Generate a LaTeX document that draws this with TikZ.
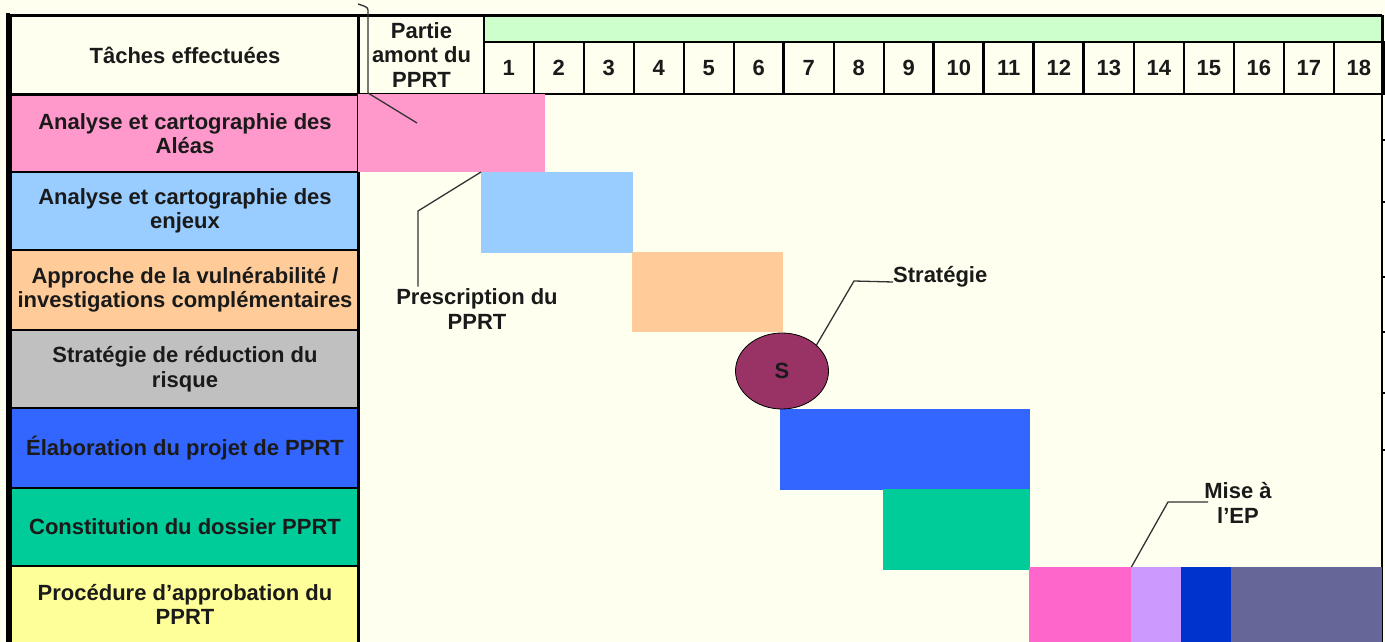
\documentclass[tikz,border=0pt]{standalone}
\usepackage{fontspec}
\setmainfont{Liberation Sans}
\usetikzlibrary{shapes.geometric,calc}
\definecolor{bg}{HTML}{FFFFF0}
\definecolor{hdrgreen}{HTML}{CCFFCC}
\definecolor{aleas}{HTML}{FF99CC}
\definecolor{enjeux}{HTML}{99CCFF}
\definecolor{vuln}{HTML}{FFCC99}
\definecolor{strat}{HTML}{C0C0C0}
\definecolor{projet}{HTML}{3366FF}
\definecolor{dossier}{HTML}{00CC99}
\definecolor{appro}{HTML}{FFFF99}
\definecolor{sfill}{HTML}{993366}
\definecolor{proc1}{HTML}{FF66CC}
\definecolor{proc2}{HTML}{CC99FF}
\definecolor{proc3}{HTML}{0033CC}
\definecolor{proc4}{HTML}{666699}
\definecolor{ink}{HTML}{1A1A1A}
\definecolor{leader}{HTML}{333333}
\tikzset{
  cell/.style={draw=black, line width=2pt, anchor=north west, inner sep=0pt,
    align=center, text=ink},
  task/.style={cell, fill=#1, minimum width=348pt},
  numcell/.style={cell, fill=bg, line width=1.6pt, minimum width=50pt, minimum height=52pt},
  bar/.style={fill=#1, draw=none, anchor=north west, inner sep=0pt},
  callout/.style={align=center, text=ink, inner sep=0pt},
  leadline/.style={draw=leader, line width=1.3pt},
}
\begin{document}
\begin{tikzpicture}[x=1pt, y=-1pt, font=\bfseries\fontsize{22}{24.5}\selectfont]
\useasboundingbox (0,0) rectangle (1385,642);
\fill[bg] (0,0) rectangle (1385,642);

% ---- header ----
\node[cell, fill=bg, minimum width=348pt, minimum height=78pt] (taches) at (10,15) {Tâches effectuées};
\node[cell, fill=bg, minimum width=125pt, minimum height=78pt] (amont) at (358,15) {Partie\\amont du\\PPRT};
\node[cell, fill=hdrgreen, minimum width=899pt, minimum height=26pt] (periode) at (483,15) {};
\foreach \i in {1,...,18}
  \node[numcell] (n\i) at ({483+50*(\i-1)},41) {\i};
% heavier separators in the month row
\foreach \x in {783,933,983,1033,1083}
  \draw[line width=3pt] (\x,41) -- (\x,93);

% ---- task labels ----
\node[task=aleas,   minimum height=77pt] (t1) at (10,94)  {Analyse et cartographie des\\Aléas};
\node[task=enjeux,  minimum height=78pt] (t2) at (10,171) {Analyse et cartographie des\\enjeux};
\node[task=vuln,    minimum height=80pt] (t3) at (10,249) {Approche de la vulnérabilité /\\investigations complémentaires};
\node[task=strat,   minimum height=78pt] (t4) at (10,329) {Stratégie de réduction du\\risque};
\node[task=projet,  minimum height=80pt] (t5) at (10,407) {Élaboration du projet de PPRT};
\node[task=dossier, minimum height=78pt] (t6) at (10,487) {Constitution du dossier PPRT};
\node[task=appro,   minimum height=77pt] (t7) at (10,565) {Procédure d’approbation du\\PPRT};

% ---- outer frame ----
\draw[line width=2.5pt] (8,15) -- (1382,15);
\draw[line width=4pt] (8,13) -- (8,645);
\draw[line width=2.5pt] (358,15) -- (358,645);
\draw[line width=1.5pt] (1382,15) -- (1382,642);
\foreach \y in {140,202,277,332,393,450}
  \draw[line width=1.5pt] (1382,\y) -- (1385,\y);

% ---- schedule bars ----
\node[bar=aleas,   minimum width=187pt, minimum height=78pt] (b1) at (358,94) {};
\node[bar=enjeux,  minimum width=152pt, minimum height=81pt] (b2) at (481,172) {};
\node[bar=vuln,    minimum width=151pt, minimum height=80pt] (b3) at (632,252) {};
\node[bar=projet,  minimum width=250pt, minimum height=81pt] (b5) at (780,409) {};
\node[bar=dossier, minimum width=147pt, minimum height=81pt] (b6) at (883,489) {};
\node[bar=proc1,   minimum width=102pt, minimum height=80pt] (b7a) at (1029,567) {};
\node[bar=proc2,   minimum width=50pt,  minimum height=80pt] (b7b) at (1131,567) {};
\node[bar=proc3,   minimum width=50pt,  minimum height=80pt] (b7c) at (1181,567) {};
\node[bar=proc4,   minimum width=151pt, minimum height=80pt] (b7d) at (1231,567) {};

% strategy milestone
\node[ellipse, draw=black, line width=0.8pt, fill=sfill, minimum width=93pt,
      minimum height=76pt, inner sep=0pt, text=ink] (S) at (782,371) {S};

% ---- callouts ----
\node[callout] (presc) at (477,309) {Prescription du\\PPRT};
\coordinate (p1) at (418,211);
\draw[leadline] (b2.north west) -- (p1) -- ($(p1 |- presc.north)+(0,-2)$);

\node[callout, anchor=base west] (strg) at (893,282) {Stratégie};
\coordinate (s1) at (854,281);
\draw[leadline] (S.37) -- (s1) -- (strg.base west);

\node[callout] (mise) at (1238,503) {Mise à\\l’EP};
\coordinate (m1) at (1168,502);
\draw[leadline] (b7a.north east) -- (m1) -- (1208,502);

% bracket above the upstream phase
\coordinate (a0) at (358,4);
\coordinate (a1) at (368,13);
\coordinate (a2) at (368,93);
\coordinate (a3) at (417,123);
\draw[leadline] (a0) -- (364,6) .. controls (368,8) .. (a1) -- (a2) -- (a3);
\end{tikzpicture}
\end{document}
